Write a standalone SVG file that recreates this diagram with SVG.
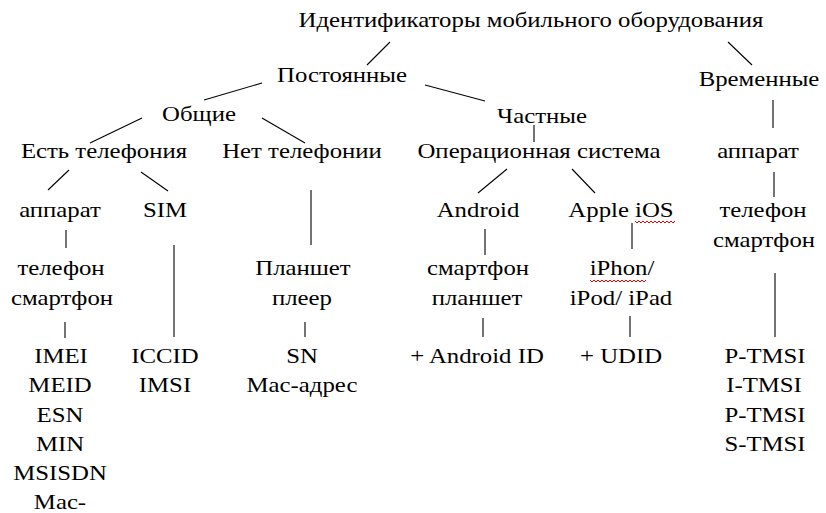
<svg xmlns="http://www.w3.org/2000/svg" width="826" height="513" viewBox="0 0 826 513" font-family="'Liberation Serif', 'Times New Roman', serif">
<style>
text{font-size:21px;fill:#000;text-anchor:middle}
.c line{stroke:#000;stroke-width:1.1}
.w{fill:none;stroke:#e00000;stroke-width:1}
</style>
<rect width="826" height="513" fill="#fff"/>
<g class="c" id="connectors">
<line x1="390" y1="42" x2="367" y2="65"/>
<line x1="728" y1="42" x2="752" y2="65"/>
<line x1="262" y1="83" x2="204" y2="100"/>
<line x1="425" y1="85" x2="485" y2="101"/>
<line x1="773" y1="100" x2="773" y2="128"/>
<line x1="534" y1="125" x2="534" y2="142"/>
<line x1="142" y1="118" x2="90" y2="143"/>
<line x1="262" y1="118" x2="305" y2="143"/>
<line x1="69" y1="170" x2="48" y2="190"/>
<line x1="141" y1="172" x2="168" y2="191"/>
<line x1="311" y1="190" x2="311" y2="245"/>
<line x1="507" y1="169" x2="478" y2="193"/>
<line x1="572" y1="169" x2="595" y2="193"/>
<line x1="774" y1="172" x2="774" y2="197"/>
<line x1="66" y1="230" x2="66" y2="248"/>
<line x1="65" y1="322" x2="65" y2="338"/>
<line x1="174" y1="245" x2="174" y2="337"/>
<line x1="305" y1="322" x2="305" y2="337"/>
<line x1="485" y1="229" x2="485" y2="255"/>
<line x1="632" y1="223" x2="632" y2="249"/>
<line x1="483" y1="318" x2="483" y2="337"/>
<line x1="630" y1="316" x2="630" y2="337"/>
<line x1="775" y1="273" x2="775" y2="337"/>
</g>
<g id="root"><text transform="translate(531 27) scale(1.18 1)">Идентификаторы мобильного оборудования</text></g>
<g id="postoyannye"><text transform="translate(342 82) scale(1.18 1)">Постоянные</text></g>
<g id="vremennye"><text transform="translate(759 86) scale(1.18 1)">Временные</text></g>
<g id="obshchie"><text transform="translate(199 121) scale(1.18 1)">Общие</text></g>
<g id="chastnye"><text transform="translate(542 123) scale(1.18 1)">Частные</text></g>
<g id="est-telefoniya"><text transform="translate(104 158) scale(1.18 1)">Есть телефония</text></g>
<g id="net-telefonii"><text transform="translate(302 158) scale(1.18 1)">Нет телефонии</text></g>
<g id="os"><text transform="translate(539 158) scale(1.18 1)">Операционная система</text></g>
<g id="apparat-right"><text transform="translate(758 158) scale(1.18 1)">аппарат</text></g>
<g id="apparat-left"><text transform="translate(60 217) scale(1.18 1)">аппарат</text></g>
<g id="sim"><text transform="translate(165 217) scale(1.18 1)">SIM</text></g>
<g id="android"><text transform="translate(478 217) scale(1.18 1)">Android</text></g>
<g id="apple-ios"><text transform="translate(621 217) scale(1.18 1)">Apple iOS</text><path class="w" d="M635 221 l2 2 l2 -2 l2 2 l2 -2 l2 2 l2 -2 l2 2 l2 -2 l2 2 l2 -2 l2 2 l2 -2 l2 2 l2 -2 l2 2 l2 -2 l2 2 l2 -2 l2 2 l2 -2"/></g>
<g id="telefon-right"><text transform="translate(763 217) scale(1.18 1)">телефон</text><text transform="translate(764 247) scale(1.18 1)">смартфон</text></g>
<g id="telefon-left"><text transform="translate(61 275) scale(1.18 1)">телефон</text><text transform="translate(62 305) scale(1.18 1)">смартфон</text></g>
<g id="planshet"><text transform="translate(303 275) scale(1.18 1)">Планшет</text><text transform="translate(302 305) scale(1.18 1)">плеер</text></g>
<g id="android-devices"><text transform="translate(478 275) scale(1.18 1)">смартфон</text><text transform="translate(477 305) scale(1.18 1)">планшет</text></g>
<g id="apple-devices"><text transform="translate(622 275) scale(1.18 1)">iPhon/</text><text transform="translate(621 305) scale(1.18 1)">iPod/ iPad</text><path class="w" d="M590 280 l2 2 l2 -2 l2 2 l2 -2 l2 2 l2 -2 l2 2 l2 -2 l2 2 l2 -2 l2 2 l2 -2 l2 2 l2 -2 l2 2 l2 -2 l2 2 l2 -2 l2 2 l2 -2 l2 2 l2 -2 l2 2 l2 -2 l2 2 l2 -2 l2 2 l2 -2"/></g>
<g id="phone-ids"><text transform="translate(61 363) scale(1.18 1)">IMEI</text><text transform="translate(60 392) scale(1.18 1)">MEID</text><text transform="translate(60 422) scale(1.18 1)">ESN</text><text transform="translate(60 451) scale(1.18 1)">MIN</text><text transform="translate(60 480) scale(1.18 1)">MSISDN</text><text transform="translate(60 509) scale(1.18 1)">Mac-</text></g>
<g id="sim-ids"><text transform="translate(165 363) scale(1.18 1)">ICCID</text><text transform="translate(165 392) scale(1.18 1)">IMSI</text></g>
<g id="tablet-ids"><text transform="translate(302 363) scale(1.18 1)">SN</text><text transform="translate(302 392) scale(1.18 1)">Mac-адрес</text></g>
<g id="android-id"><text transform="translate(477 363) scale(1.18 1)">+ Android ID</text></g>
<g id="udid"><text transform="translate(621 363) scale(1.18 1)">+ UDID</text></g>
<g id="tmsi"><text transform="translate(765 363) scale(1.18 1)">P-TMSI</text><text transform="translate(764 392) scale(1.18 1)">I-TMSI</text><text transform="translate(765 422) scale(1.18 1)">P-TMSI</text><text transform="translate(765 451) scale(1.18 1)">S-TMSI</text></g>
</svg>
